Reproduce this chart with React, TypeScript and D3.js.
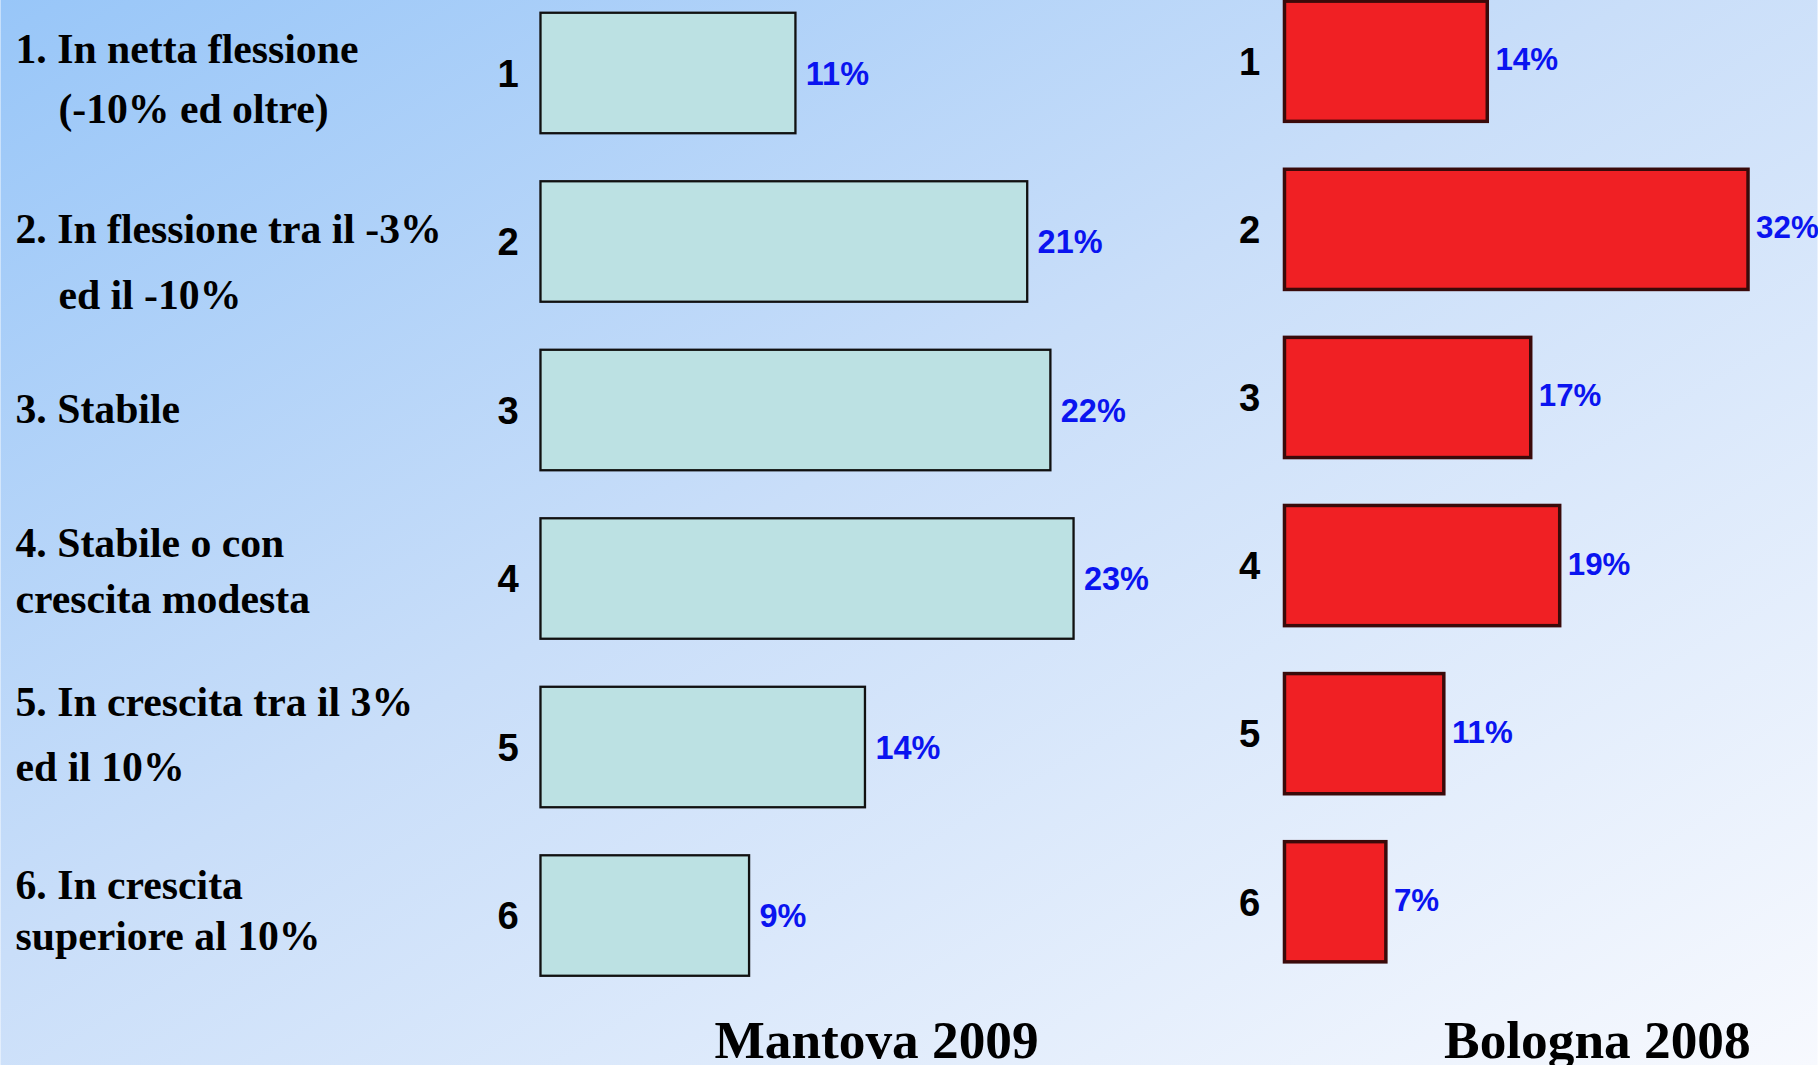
import * as d3 from 'd3'
import React, { useEffect, useRef } from "react";

// survey answer codes and the two samples (share of respondents, %)
const categories = ['1', '2', '3', '4', '5', '6'];
const mantova2009 = [11, 21, 22, 23, 14, 9];
const bologna2008 = [14, 32, 17, 19, 11, 7];
const panelTitles = ['Mantova 2009', 'Bologna 2008'];
const descriptions = [
    ['1. In netta flessione', '(-10% ed oltre)'],
    ['2. In flessione tra il -3%', 'ed il -10%'],
    ['3. Stabile'],
    ['4. Stabile o con', 'crescita modesta'],
    ['5. In crescita tra il 3%', 'ed il 10%'],
    ['6. In crescita', 'superiore al 10%'],
];

// hand placed text boxes of the slide (baselines, hanging indent)
const descBaselines = [[54, 106], [210, 267], [365], [481, 529], [618, 674], [776, 820]];
const descIndent = [[13, 50], [13, 50], [13], [13, 13], [13, 13], [13, 13]];

const W = 1568;
const H = 919;

const App: React.FC = () => {
    const ref = useRef<SVGSVGElement>(null);

    useEffect(() => {
        if (!ref.current) return;
        const svg = d3.select(ref.current);
        svg.selectAll('*').remove();

        const defs = svg.append('defs');
        const grad = defs.append('linearGradient')
            .attr('id', 'bg')
            .attr('x1', 0).attr('y1', 0).attr('x2', 1).attr('y2', 1);
        grad.append('stop').attr('offset', '0%').attr('stop-color', '#98c6f8');
        grad.append('stop').attr('offset', '45%').attr('stop-color', '#c9def9');
        grad.append('stop').attr('offset', '100%').attr('stop-color', '#f7f9fe');

        svg.append('rect')
            .attr('width', W).attr('height', H)
            .attr('fill', 'url(#bg)');

        // left column descriptions
        const desc = svg.append('g')
            .attr('font-family', '"Liberation Serif", "Times New Roman", serif')
            .attr('font-weight', 'bold')
            .attr('font-size', 36)
            .attr('fill', '#000');
        descriptions.forEach((lines, i) => {
            lines.forEach((line, j) => {
                desc.append('text')
                    .attr('x', descIndent[i][j])
                    .attr('y', descBaselines[i][j])
                    .text(line);
            });
        });

        const panels = [
            {
                values: mantova2009,
                y: d3.scaleBand().domain(categories).range([11, 842]).paddingInner(0.285).paddingOuter(0),
                x: d3.scaleLinear().domain([0, 25]).range([466, 966]),
                fill: '#bce1e3', stroke: '#111', strokeWidth: 2,
                catX: 438, labelGap: 9, labelSize: 28, labelDy: 0,
                titleX: 756,
            },
            {
                values: bologna2008,
                y: d3.scaleBand().domain(categories).range([1, 830]).paddingInner(0.285).paddingOuter(0),
                x: d3.scaleLinear().domain([0, 32]).range([1108, 1508]),
                fill: '#f02024', stroke: '#3a0a0a', strokeWidth: 3,
                catX: 1078, labelGap: 7, labelSize: 27, labelDy: -2,
                titleX: 1378,
            },
        ];

        panels.forEach((p, pi) => {
            const g = svg.append('g');
            const x0 = p.x(0);

            g.selectAll('rect.bar')
                .data(p.values)
                .join('rect')
                .attr('class', 'bar')
                .attr('x', x0)
                .attr('y', (_, i) => p.y(categories[i]) as number)
                .attr('width', d => p.x(d) - x0)
                .attr('height', p.y.bandwidth())
                .attr('fill', p.fill)
                .attr('stroke', p.stroke)
                .attr('stroke-width', p.strokeWidth);

            g.selectAll('text.cat')
                .data(categories)
                .join('text')
                .attr('class', 'cat')
                .attr('x', p.catX)
                .attr('y', d => (p.y(d) as number) + p.y.bandwidth() / 2)
                .attr('dy', '0.36em')
                .attr('text-anchor', 'middle')
                .attr('font-family', '"Liberation Sans", Arial, sans-serif')
                .attr('font-weight', 'bold')
                .attr('font-size', 33)
                .attr('fill', '#000')
                .text(d => d);

            g.selectAll('text.val')
                .data(p.values)
                .join('text')
                .attr('class', 'val')
                .attr('x', d => p.x(d) + p.labelGap)
                .attr('y', (_, i) => (p.y(categories[i]) as number) + p.y.bandwidth() / 2 + p.labelDy)
                .attr('dy', '0.36em')
                .attr('font-family', '"Liberation Sans", Arial, sans-serif')
                .attr('font-weight', 'bold')
                .attr('font-size', p.labelSize)
                .attr('fill', '#0a14f0')
                .text(d => `${d}%`);

            g.append('text')
                .attr('x', p.titleX)
                .attr('y', 913)
                .attr('text-anchor', 'middle')
                .attr('font-family', '"Liberation Serif", "Times New Roman", serif')
                .attr('font-weight', 'bold')
                .attr('font-size', 46)
                .attr('fill', '#000')
                .text(panelTitles[pi]);
        });
    }, []);

    return (
        <svg
            ref={ref}
            width={1818}
            height={1065}
            viewBox={`0 0 ${W} ${H}`}
            style={{ position: 'absolute', left: 0, top: 0, display: 'block' }}
        />
    );
}

export default App;
